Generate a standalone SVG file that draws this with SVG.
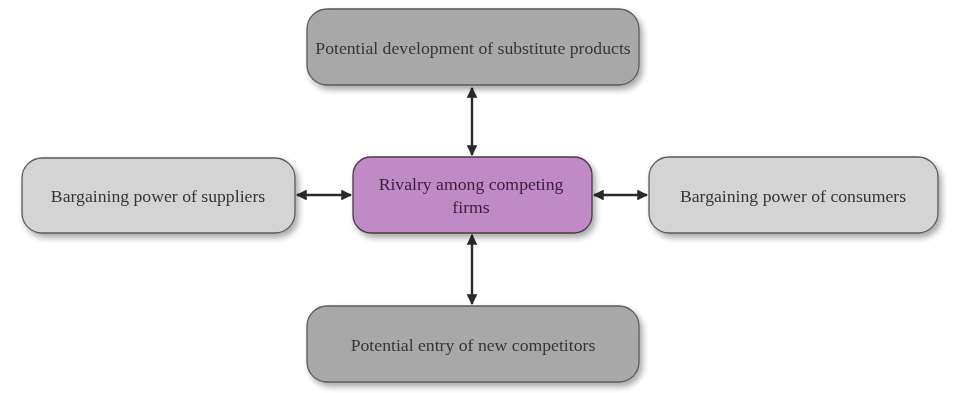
<svg xmlns="http://www.w3.org/2000/svg" width="958" height="393" viewBox="0 0 958 393">
  <style>
    .box { stroke: #5a5a5a; stroke-width: 1.3; }
    .dark { fill: #a8a8a8; }
    .light { fill: #d4d4d4; }
    .center { fill: #c08ac6; stroke: #4a3a4a; }
    .label { font-family: "Liberation Serif", "DejaVu Serif", serif; font-size: 17.7px; fill: #363636; text-anchor: middle; }
    .clabel { fill: #3a1f3a; }
    .conn { stroke: #2a2a2a; stroke-width: 2.4; fill: none; marker-start: url(#head); marker-end: url(#head); }
  </style>
  <defs>
    <filter id="shadow" x="-10%" y="-20%" width="125%" height="150%">
      <feGaussianBlur in="SourceAlpha" stdDeviation="3"/>
      <feOffset dx="3" dy="4" result="b"/>
      <feComponentTransfer><feFuncA type="linear" slope="0.35"/></feComponentTransfer>
      <feMerge><feMergeNode/><feMergeNode in="SourceGraphic"/></feMerge>
    </filter>
    <marker id="head" viewBox="0 0 10 10" refX="9" refY="5" markerWidth="4.5" markerHeight="4.5" orient="auto-start-reverse">
      <path d="M0,0 L10,5 L0,10 z" fill="#2a2a2a"/>
    </marker>
  </defs>

  <rect width="958" height="393" fill="#ffffff"/>

  <g id="connectors">
    <line class="conn" x1="472" y1="88" x2="472" y2="155"/>
    <line class="conn" x1="472" y1="235" x2="472" y2="304"/>
    <line class="conn" x1="297" y1="195" x2="351" y2="195"/>
    <line class="conn" x1="594" y1="195" x2="647" y2="195"/>
  </g>

  <g id="substitutes" filter="url(#shadow)">
    <rect class="box dark" x="307" y="9" width="332" height="76" rx="20"/>
    <text class="label" x="473" y="54">Potential development of substitute products</text>
  </g>

  <g id="suppliers" filter="url(#shadow)">
    <rect class="box light" x="22" y="158" width="273" height="75" rx="20"/>
    <text class="label" x="158" y="202">Bargaining power of suppliers</text>
  </g>

  <g id="rivalry" filter="url(#shadow)">
    <rect class="box center" x="353" y="157" width="239" height="76" rx="18"/>
    <text class="label clabel" x="471" y="190">Rivalry among competing</text>
    <text class="label clabel" x="471" y="213">firms</text>
  </g>

  <g id="consumers" filter="url(#shadow)">
    <rect class="box light" x="649" y="157" width="289" height="76" rx="20"/>
    <text class="label" x="793" y="202">Bargaining power of consumers</text>
  </g>

  <g id="entrants" filter="url(#shadow)">
    <rect class="box dark" x="307" y="306" width="332" height="76" rx="20"/>
    <text class="label" x="473" y="351">Potential entry of new competitors</text>
  </g>
</svg>
